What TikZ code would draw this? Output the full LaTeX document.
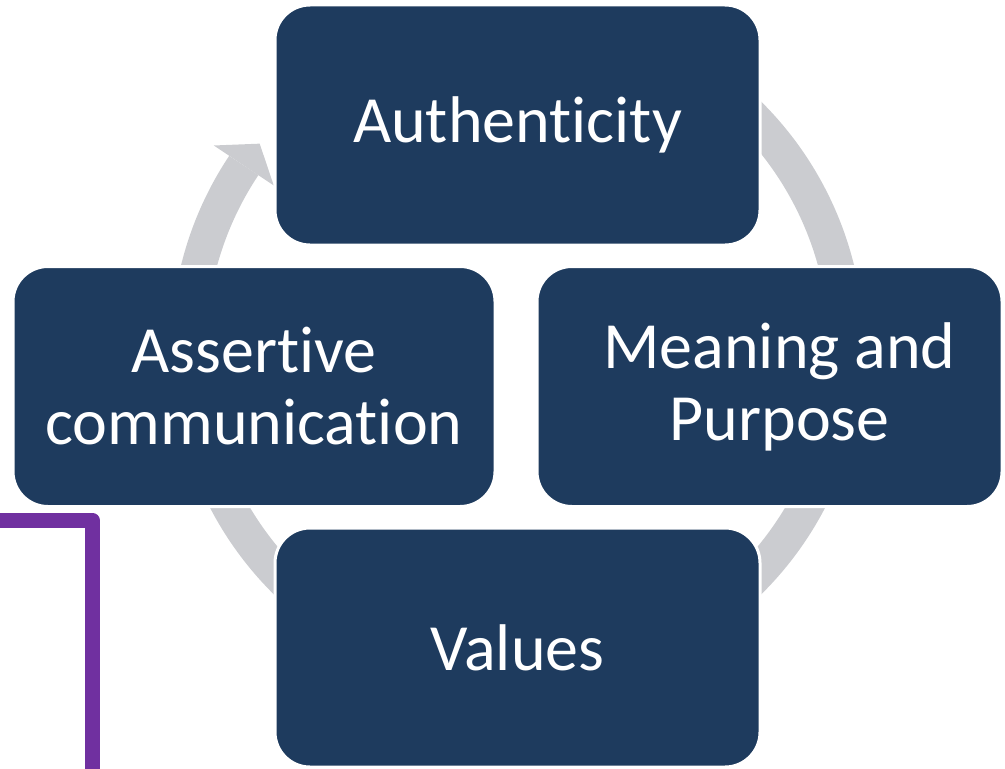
\documentclass[tikz,border=0pt]{standalone}
\usepackage{fontspec}
\setmainfont{Carlito}[Ligatures=NoCommon]
\begin{document}
\definecolor{boxblue}{RGB}{30,59,94}
\definecolor{ringgray}{RGB}{203,204,208}
\definecolor{framepurple}{RGB}{112,48,160}
\begin{tikzpicture}[x=0.5pt,y=0.5pt,
  cyclebox/.style={fill=boxblue, draw=white, line width=1.5pt,
    rounded corners=17.5pt, minimum height=120pt, inner sep=0pt,
    text=white, align=center,
    font=\fontsize{33pt}{36pt}\selectfont},
  boxtext/.style={text=white, align=center, inner sep=0pt,
    font=\fontsize{33pt}{36pt}\selectfont},
  ring/.style={draw=ringgray, line width=17.5pt, line cap=butt}]
\useasboundingbox (0,0) rectangle (1005,768);

% centre of the cycle ring
\coordinate (c) at (517.5,420);

% grey cycle ring, ending in one arrow head
\draw[ring] ([shift={(80:329)}]c) arc[start angle=80, end angle=-213.7, radius=329];
\fill[ringgray, shift={(c)}] (141.6:329) -- (146.3:365) -- (146.3:293) -- cycle;

% purple frame line at the lower left
\coordinate (p1) at (-10,248);
\coordinate (p2) at (92,248);
\coordinate (p3) at (92,-10);
\draw[framepurple, line width=7.5pt, line join=round] (p1) -- (p2) -- (p3);

% the four stages
\node[cyclebox, minimum width=242.5pt] (auth) at (517.5,643) {Authenticity};
\node[cyclebox, minimum width=241pt] (assert) at (254,381.5) {Assertive\\communication};
\node[cyclebox, minimum width=232.5pt] (meaning) at (769.5,381.5) {};
\node[boxtext] (meaningtxt) at (779.5,381.5) {Meaning and\\Purpose};
\node[cyclebox, minimum width=242.5pt, minimum height=119.5pt] (values) at (517.5,120.5) {Values};
\end{tikzpicture}
\end{document}
